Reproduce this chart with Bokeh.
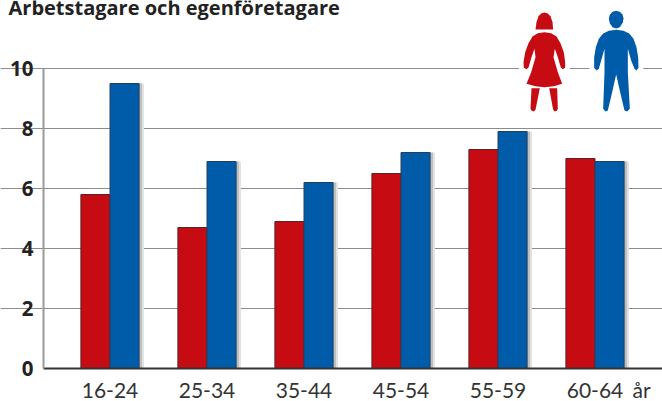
from bokeh.plotting import figure
from bokeh.embed import file_html
from bokeh.resources import INLINE
from bokeh.models import Range1d, FixedTicker, Label
from bokeh.models import ColumnDataSource

categories = ["16-24", "25-34", "35-44", "45-54", "55-59", "60-64"]
women = [5.8, 4.7, 4.9, 6.5, 7.3, 7.0]
men = [9.5, 6.9, 6.2, 7.2, 7.9, 6.9]
y_ticks = [0, 2, 4, 6, 8, 10]
title = "Arbetstagare och egenföretagare"
unit = "år"

W, H = 662, 401
LEFT, BASE = 43, 368
STEP = 97.0
FIRST = 109.5
PX_PER_Y = 30.0
BAR = 0.3

def dx(px):
    return (px - FIRST) / STEP

def dy(py):
    return (BASE - py) / PX_PER_Y

p = figure(width=W, height=H, output_backend="svg", toolbar_location=None,
           x_range=Range1d(dx(0), dx(W)), y_range=Range1d(dy(H), dy(0)),
           min_border_left=0, min_border_right=0, min_border_top=0, min_border_bottom=0,
           margin=(0, 0, 0, 0), background_fill_color="white", border_fill_color="white")
p.outline_line_color = None

p.xgrid.visible = False
p.ygrid.ticker = FixedTicker(ticks=y_ticks[1:])
p.ygrid.bounds = (dx(LEFT), dx(W))
p.ygrid.grid_line_color = "#8c8c8c"
p.ygrid.grid_line_width = 1.2

p.yaxis.fixed_location = dx(LEFT)
p.yaxis.ticker = FixedTicker(ticks=y_ticks)
p.yaxis.bounds = (0, 10)
p.yaxis.axis_line_color = "#9a9a9a"
p.yaxis.axis_line_width = 2
p.yaxis.major_tick_line_color = None
p.yaxis.minor_tick_line_color = None
p.yaxis.major_label_text_font = "Open Sans"
p.yaxis.major_label_text_font_style = "bold"
p.yaxis.major_label_text_font_size = "20.5px"
p.yaxis.major_label_text_color = "#222222"
p.yaxis.major_label_standoff = 4

UNIT_TICK = 5.48
p.xaxis.fixed_location = 0
p.xaxis.bounds = (dx(LEFT), dx(W))
p.xaxis.ticker = FixedTicker(ticks=list(range(len(categories))) + [UNIT_TICK])
overrides = {i: c for i, c in enumerate(categories)}
overrides[UNIT_TICK] = unit
p.xaxis.major_label_overrides = overrides
p.xaxis.axis_line_color = "#333333"
p.xaxis.axis_line_width = 2
p.xaxis.major_tick_line_color = None
p.xaxis.minor_tick_line_color = None
p.xaxis.major_label_text_font = "Lato"
p.xaxis.major_label_text_font_size = "21px"
p.xaxis.major_label_text_color = "#333333"
p.xaxis.major_label_standoff = 2

idx = list(range(len(categories)))
src = ColumnDataSource(dict(
    l=[i - BAR for i in idx], m=idx, r=[i + BAR for i in idx],
    s1=[i + BAR + 0.05 for i in idx], s2=[i + BAR + 0.03 for i in idx],
    women=women, men=men))

# soft shadow right of each pair of bars
p.quad(left="m", right="s1", top="men", bottom=0, source=src, fill_color="#e2e2e2", line_color=None)
p.quad(left="m", right="s2", top="men", bottom=0, source=src, fill_color="#bfbfbf", line_color=None)
p.quad(left="l", right="m", top="women", bottom=0, source=src,
       fill_color="#c60c12", line_color="#5a2226", line_width=1)
p.quad(left="m", right="r", top="men", bottom=0, source=src,
       fill_color="#005ca9", line_color="#21415f", line_width=1)

def zx(a):
    return dx(500 + a / 3)

def zy(b):
    return dy(b / 3)

woman = [
    [(105, 87), (108, 65), (114, 47), (122, 39), (132, 36), (142, 39), (150, 47), (156, 65), (158, 87)],
    [(132, 95), (112, 98), (96, 108), (84, 128), (74, 155), (69, 185), (70, 202), (78, 206), (84, 201),
     (93, 170), (102, 145), (105, 170), (92, 215), (78, 250), (105, 257), (132, 260), (160, 257), (185, 250),
     (172, 215), (159, 170), (163, 145), (172, 170), (181, 201), (187, 206), (194, 202), (194, 185), (190, 155),
     (180, 128), (168, 108), (152, 98)],
    [(93, 263), (118, 263), (105, 328), (100, 333), (93, 330), (90, 325)],
    [(146, 263), (170, 263), (172, 325), (169, 331), (163, 333), (158, 328)],
]
man = [
    [(347, 31), (358, 34), (366, 42), (369, 53), (367, 66), (358, 80), (347, 84), (336, 80), (328, 68), (325, 55),
     (328, 43), (336, 34)],
    [(347, 88), (325, 91), (308, 99), (295, 115), (286, 140), (281, 170), (281, 202), (288, 210), (295, 205),
     (302, 180), (312, 145), (312, 215), (308, 325), (315, 333), (322, 330), (335, 275), (347, 222), (359, 275),
     (372, 330), (380, 333), (388, 325), (382, 215), (382, 145), (392, 180), (402, 205), (408, 210), (414, 202),
     (413, 170), (408, 140), (399, 115), (386, 99), (369, 91)],
]
for shapes in (woman, man):
    xs = [[zx(a) for a, b in s] for s in shapes]
    ys = [[zy(b) for a, b in s] for s in shapes]
    p.patches(xs, ys, fill_color="white", line_color="white", line_width=10)
for shapes, color in ((woman, "#c60c12"), (man, "#005ca9")):
    xs = [[zx(a) for a, b in s] for s in shapes]
    ys = [[zy(b) for a, b in s] for s in shapes]
    p.patches(xs, ys, fill_color=color, line_color=None)

p.add_layout(Label(x=dx(8), y=dy(7), text=title, text_font="Open Sans", text_font_style="bold",
                   text_font_size="20px", text_color="#222222", text_baseline="middle"))

open("out.html", "w").write(file_html(p, INLINE))
